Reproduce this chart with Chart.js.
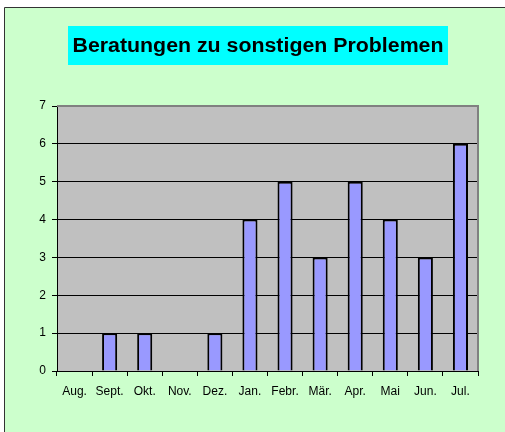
<!DOCTYPE html>
<html>
<head>
<meta charset="utf-8">
<script src="https://cdn.jsdelivr.net/npm/chart.js@4/dist/chart.umd.min.js"></script>
<style>
  html, body { margin: 0; padding: 0; background: #fff; }
  #wrap { width: 505px; height: 432px; position: relative; }
</style>
</head>
<body>
<div id="wrap"><canvas id="chart" width="505" height="432"></canvas></div>
<script>
// Data
const months = ['Aug.', 'Sept.', 'Okt.', 'Nov.', 'Dez.', 'Jan.', 'Febr.', 'Mär.', 'Apr.', 'Mai', 'Jun.', 'Jul.'];
const counts = [0, 1, 1, 0, 1, 4, 5, 3, 5, 4, 3, 6];
const yTicks = [0, 1, 2, 3, 4, 5, 6, 7];
const titleText = 'Beratungen zu sonstigen Problemen';

const fontFamily = '"Liberation Sans", Arial, sans-serif';

// Background, title box and plot frame
const frame = {
    id: 'frame',
    beforeDraw(chart) {
        const ctx = chart.ctx;
        const a = chart.chartArea;
        ctx.save();
        ctx.fillStyle = '#ffffff';
        ctx.fillRect(0, 0, chart.width, chart.height);
        ctx.fillStyle = '#CCFFCC';
        ctx.fillRect(5, 7, chart.width - 5, chart.height - 7);
        ctx.strokeStyle = '#333333';
        ctx.lineWidth = 1;
        ctx.beginPath();
        ctx.moveTo(4.5, chart.height);
        ctx.lineTo(4.5, 7.5);
        ctx.lineTo(chart.width, 7.5);
        ctx.stroke();

        // title box, text stretched a little wider like the original
        ctx.fillStyle = '#00FFFF';
        ctx.fillRect(68, 26, 380, 39);
        ctx.fillStyle = '#000';
        ctx.font = 'bold 20px ' + fontFamily;
        const w = ctx.measureText(titleText).width;
        const sx = 371 / w;
        ctx.translate(258, 51.5);
        ctx.scale(sx, 1);
        ctx.textAlign = 'center';
        ctx.textBaseline = 'alphabetic';
        ctx.fillText(titleText, 0, 0);
        ctx.setTransform(1, 0, 0, 1, 0, 0);

        // plot background
        ctx.fillStyle = '#C0C0C0';
        ctx.fillRect(a.left, a.top, a.right - a.left, a.bottom - a.top);
        ctx.restore();
    },
    afterDatasetsDraw(chart) {
        const ctx = chart.ctx;
        const a = chart.chartArea;
        ctx.save();
        ctx.strokeStyle = '#808080';
        ctx.lineWidth = 2;
        ctx.beginPath();
        ctx.moveTo(a.left, a.top);
        ctx.lineTo(a.right, a.top);
        ctx.lineTo(a.right, a.bottom);
        ctx.stroke();
        ctx.restore();
    }
};

new Chart(document.getElementById('chart'), {
    type: 'bar',
    data: {
        labels: months,
        datasets: [{
            data: counts,
            backgroundColor: '#9999FF',
            borderColor: '#000000',
            borderWidth: 2,
            categoryPercentage: 1,
            barPercentage: 0.43
        }]
    },
    options: {
        responsive: false,
        animation: false,
        layout: { padding: { left: 0, top: 106, right: 27, bottom: 0 } },
        plugins: {
            legend: { display: false },
            tooltip: { enabled: false },
            title: { display: false }
        },
        scales: {
            x: {
                grid: {
                    drawOnChartArea: false,
                    drawTicks: true,
                    tickLength: 5,
                    tickColor: '#000',
                    offset: true
                },
                border: { color: '#000', width: 1 },
                ticks: {
                    color: '#000',
                    padding: 8,
                    maxRotation: 0,
                    autoSkip: false,
                    font: { family: fontFamily, size: 12 }
                },
                afterFit(scale) { scale.height = 61; }
            },
            y: {
                min: 0,
                max: 7,
                afterBuildTicks(scale) { scale.ticks = yTicks.map(v => ({ value: v })); },
                grid: {
                    color: '#000',
                    lineWidth: 1,
                    tickLength: 5,
                    tickColor: '#000'
                },
                border: { color: '#000', width: 1 },
                ticks: {
                    color: '#000',
                    padding: 6,
                    font: { family: fontFamily, size: 12 }
                },
                afterFit(scale) { scale.width = 57; }
            }
        }
    },
    plugins: [frame]
});
</script>
</body>
</html>
